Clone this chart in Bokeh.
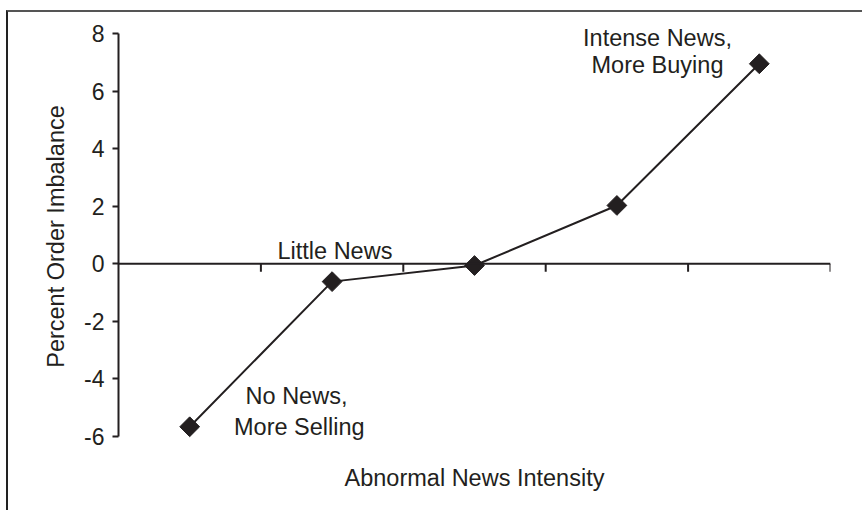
import numpy as np
from bokeh.plotting import figure
from bokeh.models import Range1d, Span, Label, FixedTicker, PrintfTickFormatter
from bokeh.embed import file_html
from bokeh.resources import INLINE

# ---- data ----
categories = ["No News", "Little News", "Moderate", "More News", "Intense News"]
imbalance = [-5.67, -0.62, -0.06, 2.03, 6.96]
y_ticks = [-6, -4, -2, 0, 2, 4, 6, 8]
annotations = [
    ("Intense News,", 3.785, 7.84),
    ("More Buying", 3.785, 6.93),
    ("Little News", 1.52, 0.46),
    ("No News,", 1.25, -4.61),
    ("More Selling", 1.27, -5.69),
]

INK = "#231f20"
FONT = "Liberation Sans"
FS = "23.5px"
FS_TICK = "23px"

n = len(categories)
x_pos = [i + 0.5 for i in range(n)]
boundaries = [i + 1 for i in range(n)]

p = figure(width=856, height=500, output_backend="svg", toolbar_location=None,
           x_range=Range1d(0, n), y_range=Range1d(-6.6, 8.5),
           min_border_left=110, min_border_right=34, min_border_top=7, min_border_bottom=59)
p.styles = {"border-top": "2px solid #555555", "border-left": "2px solid #222222",
            "margin-left": "6px", "margin-top": "10px"}
p.outline_line_color = None
p.background_fill_color = "white"
p.border_fill_color = "white"
p.grid.visible = False

# y axis
p.yaxis.ticker = FixedTicker(ticks=y_ticks)
p.yaxis.bounds = (min(y_ticks), max(y_ticks))
p.yaxis.formatter = PrintfTickFormatter(format="%d")
p.yaxis.axis_label = "Percent Order Imbalance"
p.yaxis.axis_label_text_font = FONT
p.yaxis.axis_label_text_font_size = FS
p.yaxis.axis_label_text_font_style = "normal"
p.yaxis.axis_label_text_color = INK
p.yaxis.axis_label_standoff = 12
p.yaxis.major_label_text_font = FONT
p.yaxis.major_label_text_font_size = FS_TICK
p.yaxis.major_label_text_color = INK
p.yaxis.major_label_standoff = 8
p.yaxis.axis_line_width = 2
p.yaxis.axis_line_color = INK
p.yaxis.major_tick_line_width = 2
p.yaxis.major_tick_line_color = INK
p.yaxis.major_tick_out = 6
p.yaxis.major_tick_in = 0
p.yaxis.minor_tick_line_color = None

# x axis (only its title; line drawn at y = 0)
p.xaxis.axis_label = "Abnormal News Intensity"
p.xaxis.axis_label_text_font = FONT
p.xaxis.axis_label_text_font_size = FS
p.xaxis.axis_label_text_font_style = "normal"
p.xaxis.axis_label_text_color = INK
p.xaxis.axis_label_standoff = 11
p.xaxis.axis_line_color = None
p.xaxis.major_tick_line_color = None
p.xaxis.minor_tick_line_color = None
p.xaxis.major_label_text_font_size = "0px"
p.xaxis.major_label_text_color = None
p.xaxis.ticker = FixedTicker(ticks=[])

p.add_layout(Span(location=0, dimension="width", line_color=INK, line_width=2))
p.segment(x0=boundaries, y0=[0] * n, x1=boundaries, y1=[-0.28] * n,
          line_color=INK, line_width=2)

p.line(x_pos, imbalance, line_color=INK, line_width=2)
p.scatter(x_pos, imbalance, marker="square", angle=np.pi / 4, size=14,
          fill_color=INK, line_color=INK)

for txt, x, y in annotations:
    p.add_layout(Label(x=x, y=y, text=txt, text_align="center", text_baseline="middle",
                       text_font=FONT, text_font_size=FS, text_color=INK))

open("out.html", "w").write(file_html(p, INLINE))
